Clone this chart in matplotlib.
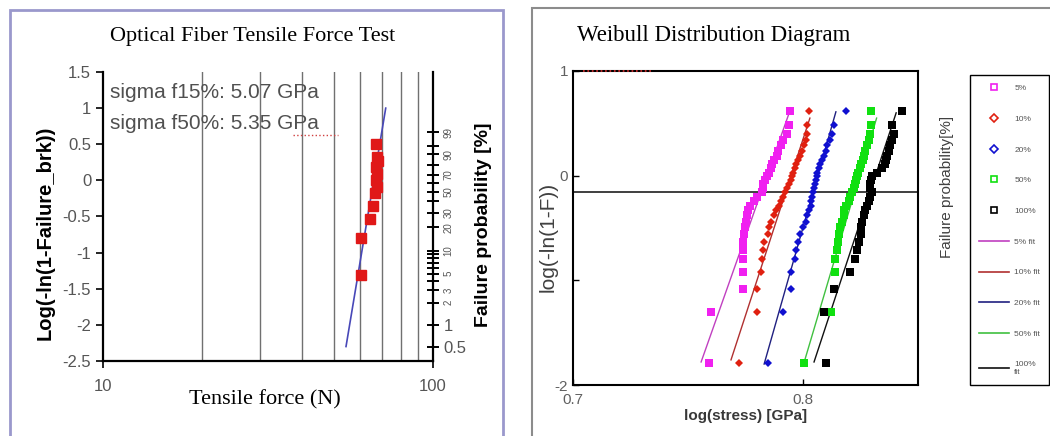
import numpy as np
import matplotlib
matplotlib.use("Agg")
import matplotlib.pyplot as plt
from matplotlib.lines import Line2D
from matplotlib.patches import Rectangle

plt.rcParams['font.family'] = ['Liberation Sans', 'DejaVu Sans']

# ---- left chart: tensile force test ----
force_n = [60.4, 60.4, 64.4, 65.9, 66.7, 67.5, 67.2, 67.5, 67.2, 68.0, 67.5, 67.2]
force_y = [-1.31, -0.80, -0.53, -0.36, -0.18, -0.09, 0.00, 0.09, 0.18, 0.27, 0.32, 0.50]
force_fit_x = [54.5, 71.9]
force_fit_y = [-2.30, 1.00]
grid_force = [20, 30, 40, 50, 60, 70, 80, 90]
prob_ticks = [0.5, 1, 2, 3, 4, 5, 6, 7, 8, 9, 10, 20, 30, 40, 50, 60, 70, 80, 90, 95, 99]
prob_labeled = [0.5, 1, 2, 3, 5, 10, 20, 30, 50, 70, 90, 99]
sigma_text = ["sigma f15%: 5.07 GPa", "sigma f50%: 5.35 GPa"]

# ---- right chart: Weibull plot (31 specimens per group) ----
rank_y = [-1.79, -1.30, -1.08, -0.92, -0.80, -0.71, -0.63, -0.56, -0.49, -0.44,
          -0.38, -0.33, -0.29, -0.24, -0.20, -0.16, -0.12, -0.08, -0.04, 0.00,
          0.03, 0.07, 0.11, 0.15, 0.19, 0.24, 0.29, 0.34, 0.40, 0.48, 0.62]
stress_5 = [0.7593, 0.7600, 0.7737, 0.7737, 0.7737, 0.7737, 0.7740, 0.7745, 0.7747, 0.7752,
            0.7756, 0.7762, 0.7771, 0.7788, 0.7802, 0.7820, 0.7824, 0.7828, 0.7834, 0.7843,
            0.7853, 0.7863, 0.7867, 0.7874, 0.7885, 0.7892, 0.7906, 0.7915, 0.7932, 0.7939, 0.7944]
stress_10 = [0.7723, 0.7802, 0.7802, 0.7817, 0.7820, 0.7824, 0.7831, 0.7846, 0.7853, 0.7863,
             0.7872, 0.7882, 0.7896, 0.7903, 0.7911, 0.7921, 0.7932, 0.7939, 0.7947, 0.7954,
             0.7958, 0.7964, 0.7968, 0.7978, 0.7987, 0.7997, 0.8004, 0.8012, 0.8016, 0.8019, 0.8026]
stress_20 = [0.7846, 0.7911, 0.7947, 0.7947, 0.7964, 0.7968, 0.7978, 0.7987, 0.8001, 0.8012,
             0.8019, 0.8026, 0.8033, 0.8036, 0.8040, 0.8045, 0.8048, 0.8051, 0.8055, 0.8059,
             0.8062, 0.8069, 0.8076, 0.8084, 0.8091, 0.8098, 0.8105, 0.8117, 0.8127, 0.8134, 0.8185]
stress_50 = [0.8004, 0.8120, 0.8134, 0.8137, 0.8141, 0.8146, 0.8152, 0.8156, 0.8160, 0.8170,
             0.8177, 0.8180, 0.8189, 0.8199, 0.8206, 0.8214, 0.8221, 0.8228, 0.8232, 0.8235,
             0.8240, 0.8247, 0.8253, 0.8261, 0.8267, 0.8271, 0.8278, 0.8286, 0.8293, 0.8296, 0.8296]
stress_100 = [0.8098, 0.8091, 0.8134, 0.8206, 0.8228, 0.8235, 0.8242, 0.8250, 0.8253, 0.8257,
              0.8264, 0.8271, 0.8278, 0.8286, 0.8293, 0.8300, 0.8293, 0.8293, 0.8296, 0.8300,
              0.8322, 0.8343, 0.8358, 0.8362, 0.8365, 0.8372, 0.8379, 0.8387, 0.8394, 0.8387, 0.8430]
fit_x = [[0.7557, 0.7940], [0.7687, 0.8030], [0.7831, 0.8143], [0.8004, 0.8320], [0.8048, 0.8405]]
fit_y = [[-1.78, 0.60], [-1.76, 0.55], [-1.80, 0.61], [-1.79, 0.55], [-1.78, 0.60]]
groups = ["5%", "10%", "20%", "50%", "100%"]
fit_labels = ["5% fit", "10% fit", "20% fit", "50% fit", "100%\nfit"]
point_colors = ["#f020f0", "#e02010", "#1010d0", "#10e010", "#000000"]
line_colors = ["#c040c0", "#b03030", "#202080", "#40c040", "#101010"]
markers = ["s", "D", "D", "s", "s"]

fig = plt.figure(figsize=(10.5, 4.36), dpi=100)

# panel frames
fig.patches.append(Rectangle((10 / 1050, -0.02), 493 / 1050, 1 - 10 / 436 + 0.02, transform=fig.transFigure,
                             fill=False, ec="#9a98cc", lw=2))
fig.patches.append(Rectangle((532 / 1050, -0.02), 0.5, 1 - 8 / 436 + 0.02, transform=fig.transFigure,
                             fill=False, ec="#8c8c8c", lw=1.5))

# ---------------- left ----------------
ax = fig.add_axes([103 / 1050, 75 / 436, 330 / 1050, 289 / 436])
ax.set_xscale("log")
ax.set_xlim(10, 100)
ax.set_ylim(-2.5, 1.5)
for g in grid_force:
    ax.axvline(g, color="#707070", lw=1)
ax.plot(force_fit_x, force_fit_y, color="#4848b8", lw=1.2, zorder=3)
ax.plot(force_n, force_y, "s", color="#e01818", ms=7, zorder=4)
ax.set_xticks([10, 100])
ax.set_xticklabels(["10", "100"])
ax.xaxis.set_minor_locator(matplotlib.ticker.NullLocator())
ax.set_yticks([1.5, 1, 0.5, 0, -0.5, -1, -1.5, -2, -2.5])
ax.set_yticklabels(["1.5", "1", "0.5", "0", "-0.5", "-1", "-1.5", "-2", "-2.5"])
ax.tick_params(labelsize=12, colors="#555555", length=5, width=1.2)
ax.tick_params(axis="both", color="black")
ax.tick_params(axis="x", pad=8)
for s in ["top", "right"]:
    ax.spines[s].set_visible(False)
for s in ["left", "bottom"]:
    ax.spines[s].set_linewidth(1.6)
ax.text(10.5, 1.22, sigma_text[0], fontsize=15, color="#505050", va="center")
ax.text(10.5, 0.79, sigma_text[1], fontsize=15, color="#505050", va="center")
ax.plot([37.7, 51.5], [0.63, 0.63], ls=":", color="#d04040", lw=1)

ax2 = ax.twinx()
ax2.set_ylim(-2.5, 1.5)
prob_pos = [np.log10(-np.log(1 - p / 100)) for p in prob_ticks]
ax2.set_yticks(prob_pos)
ax2.set_yticklabels([("%g" % p) if p in prob_labeled else "" for p in prob_ticks])
ax2.tick_params(direction="inout", length=9, width=1.4, labelsize=7, colors="#555555", pad=3)
ax2.tick_params(axis="y", color="black")
for lab, p in zip(ax2.get_yticklabels(), prob_ticks):
    if p <= 1:
        lab.set_fontsize(12)
    else:
        lab.set_rotation(90)
        lab.set_va("center")
for s in ["top", "left", "bottom"]:
    ax2.spines[s].set_visible(False)
ax2.spines["right"].set_linewidth(1.6)

fig.text(253 / 1050, 1 - 37 / 436, "Optical Fiber Tensile Force Test", family="Liberation Serif",
         fontsize=16, ha="center", va="center")
fig.text(265 / 1050, 1 - 400 / 436, "Tensile force (N)", family="Liberation Serif",
         fontsize=16, ha="center", va="center")
fig.text(45 / 1050, 1 - 233 / 436, "Log(-ln(1-Failure_brk))", fontsize=14.5, fontweight="bold",
         rotation=90, ha="center", va="center")
fig.text(483 / 1050, 1 - 225 / 436, "Failure probability [%]", fontsize=14, fontweight="bold",
         rotation=90, ha="center", va="center")

# ---------------- right ----------------
bx = fig.add_axes([573 / 1050, 51 / 436, 345 / 1050, 314 / 436])
bx.set_xlim(0.7, 0.85)
bx.set_ylim(-2, 1)
bx.axhline(np.log10(np.log(2)), color="#303030", lw=1.3)
series = [stress_5, stress_10, stress_20, stress_50, stress_100]
for i in range(5):
    bx.plot(fit_x[i], fit_y[i], color=line_colors[i], lw=1)
for i in range(5):
    ms = 6 if markers[i] == "s" else 4.5
    bx.plot(series[i], rank_y, markers[i], color=point_colors[i], ms=ms, mew=0)
bx.plot([0.7043, 0.7346], [1, 1], ls=":", color="#e03030", lw=1.2, clip_on=False, zorder=5)
bx.set_xticks([0.7, 0.8])
bx.set_xticklabels(["0.7", "0.8"])
bx.set_yticks([1, 0, -1, -2])
bx.set_yticklabels(["1", "0", "", "-2"])
bx.tick_params(direction="in", labelsize=11, labelcolor="#606060", length=4, width=1)
bx.tick_params(axis="x", pad=6)
for s in bx.spines.values():
    s.set_linewidth(1.5)
bx.set_xlabel("log(stress) [GPa]", fontsize=11, fontweight="bold", color="#383838", labelpad=1.5)

fig.text(577 / 1050, 1 - 35 / 436, "Weibull Distribution Diagram", family="Liberation Serif",
         fontsize=16.5, ha="left", va="center")
fig.text(548 / 1050, 1 - 237 / 436, "log(-ln(1-F))", fontsize=15, color="#404040",
         rotation=90, ha="center", va="center")
fig.text(947 / 1050, 1 - 187 / 436, "Failure probability[%]", fontsize=11, color="#404040",
         rotation=90, ha="center", va="center")

handles = []
for i in range(5):
    handles.append(Line2D([], [], marker=markers[i], ls="none", mfc="none", mec=point_colors[i],
                          ms=4.5 if markers[i] == "s" else 4, mew=1.2))
for i in range(5):
    handles.append(Line2D([], [], color=line_colors[i], lw=1.2))
leg = fig.legend(handles, groups + fit_labels, loc="upper left", bbox_to_anchor=(970 / 1050, 1 - 75 / 436),
                 bbox_transform=fig.transFigure, fontsize=6, labelspacing=2.75, handlelength=3.6,
                 handletextpad=0.6, borderpad=1.1, borderaxespad=0, frameon=True, fancybox=False,
                 framealpha=1, edgecolor="black")
leg.get_frame().set_linewidth(1)
for t in leg.get_texts():
    t.set_color("#555555")

fig.savefig("out.png", dpi=100)
